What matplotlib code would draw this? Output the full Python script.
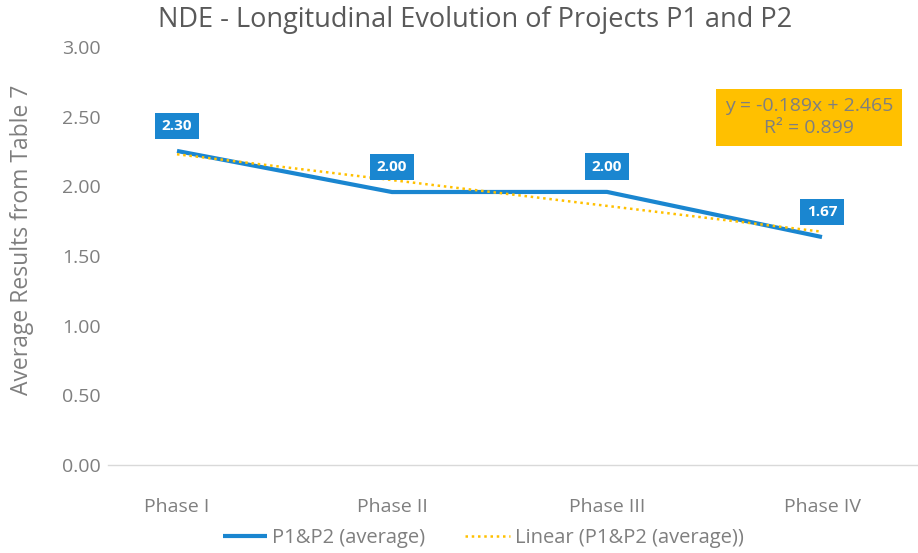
import matplotlib
matplotlib.use("Agg")
import matplotlib.pyplot as plt
import numpy as np

phases = ["Phase I", "Phase II", "Phase III", "Phase IV"]
values = [2.254, 1.959, 1.960, 1.636]
value_labels = ["2.30", "2.00", "2.00", "1.67"]
yticks = [0.0, 0.5, 1.0, 1.5, 2.0, 2.5, 3.0]
eq_text = "y = -0.189x + 2.465\nR² = 0.899"

plt.rcParams['font.family'] = ['Open Sans', 'DejaVu Sans']

W, H = 918, 553
fig = plt.figure(figsize=(W/100, H/100), dpi=100)
ax = fig.add_axes([108/W, 1-465/H, (918-108)/W, (465-47)/H])

x = np.arange(len(phases))
blue = "#1a86d0"
ax.plot(x, values, color=blue, lw=3, solid_capstyle='butt', label="P1&P2 (average)", zorder=3)

# linear trend
coef = np.polyfit(x + 1, values, 1)
ax.plot(x, np.polyval(coef, x + 1), color="#FFC000", lw=1.8, ls=(0, (1, 1.5)),
        label="Linear (P1&P2 (average))", zorder=4)

for xi, v, lab in zip(x, values, value_labels):
    ax.annotate(lab, (xi, v), xytext=(0, 25), textcoords='offset pixels',
                ha='center', va='center', color='white', fontsize=11, fontweight='bold',
                bbox=dict(boxstyle='square,pad=0.42', fc=blue, ec='none'), zorder=5)

ax.set_xlim(-(177-108)/215, 3 + (918-822)/215)
ax.set_ylim(0, 3)
ax.set_yticks(yticks)
ax.set_yticklabels([f"{t:.2f}" for t in yticks])
ax.set_xticks(x)
ax.set_xticklabels(phases)
ax.tick_params(axis='both', length=0, colors="#7f7f7f", labelsize=14)
ax.tick_params(axis='x', pad=24)
ax.tick_params(axis='y', pad=5)
for s in ['top', 'right', 'left']:
    ax.spines[s].set_visible(False)
ax.spines['bottom'].set_color("#d9d9d9")
ax.spines['bottom'].set_linewidth(1)

fig.text(22/W, 1-240/H, "Average Results from Table 7", rotation=90, ha='center', va='center',
         fontsize=16.5, color="#7f7f7f")
fig.text(475/W, 1-20/H, "NDE - Longitudinal Evolution of Projects P1 and P2", ha='center', va='center',
         fontsize=19.5, color="#595959")

fig.text(809/W, 1-117/H, eq_text, ha='center', va='center', fontsize=14, color="#7f7f7f",
         linespacing=1.25,
         bbox=dict(boxstyle='square,pad=0.45', fc="#FFC000", ec='none'))

leg = fig.legend(loc='center', bbox_to_anchor=(483/W, 1-538/H), ncol=2, frameon=False,
                 fontsize=14.5, handlelength=2.2, columnspacing=2.0, handletextpad=0.25)
for t in leg.get_texts():
    t.set_color("#7f7f7f")

fig.savefig("out.png", dpi=100)
